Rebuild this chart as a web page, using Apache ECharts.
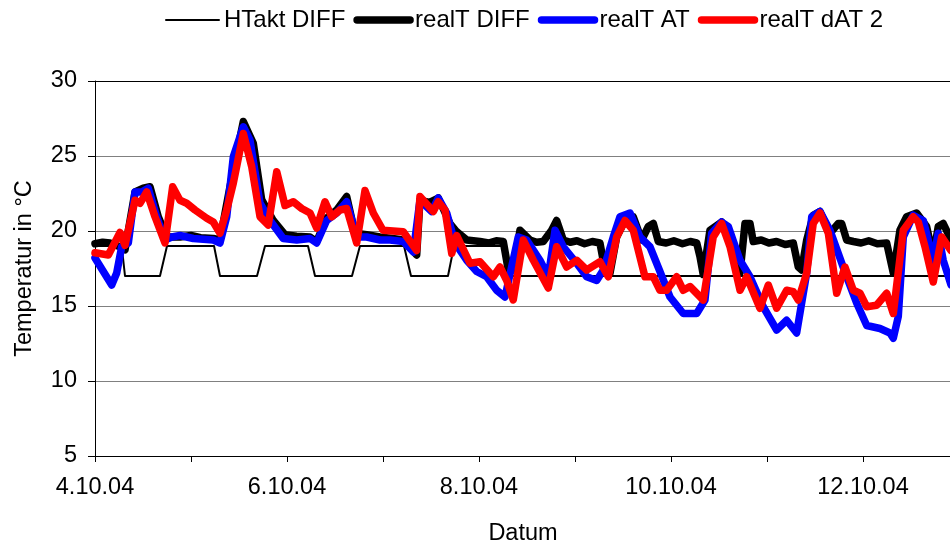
<!DOCTYPE html>
<html>
<head>
<meta charset="utf-8">
<script src="https://cdn.jsdelivr.net/npm/echarts@6/dist/echarts.min.js"></script>
<style>
  html, body { margin: 0; padding: 0; background: #fff; }
  #chart { width: 950px; height: 543px; }
</style>
</head>
<body>
<div id="chart"></div>
<script>
// x values are days after 4.10.04
var htaktDay = [0, 0.278, 0.3125, 0.677, 0.75, 1.24, 1.302, 1.6875, 1.771, 2.219, 2.292, 2.677, 2.76, 3.219, 3.292, 3.677, 3.74, 4.25, 4.3125, 8.917];
var htaktVal = [19, 19, 17, 17, 19, 19, 17, 17, 19, 19, 17, 17, 19, 19, 17, 17, 19, 19, 17, 17];

var diffDay = [0, 0.08, 0.156, 0.26, 0.3125, 0.417, 0.503, 0.573, 0.659, 0.747, 0.885, 1.0, 1.1, 1.232, 1.302, 1.406, 1.545, 1.649, 1.736, 1.857, 1.979, 2.1, 2.24, 2.309, 2.413, 2.518, 2.622, 2.708, 2.83, 2.969, 3.1, 3.211, 3.351, 3.385, 3.48, 3.576, 3.698, 3.768, 3.872, 4.01, 4.1, 4.18, 4.253, 4.305, 4.357, 4.427, 4.531, 4.6, 4.67, 4.757, 4.809, 4.878, 4.95, 5.02, 5.1, 5.18, 5.26, 5.3125, 5.365, 5.434, 5.538, 5.607, 5.695, 5.764, 5.816, 5.868, 5.95, 6.03, 6.12, 6.2, 6.268, 6.302, 6.336, 6.406, 6.528, 6.615, 6.719, 6.771, 6.823, 6.857, 6.94, 7.02, 7.1, 7.19, 7.274, 7.326, 7.361, 7.414, 7.482, 7.552, 7.656, 7.743, 7.778, 7.83, 7.9, 7.98, 8.06, 8.15, 8.247, 8.316, 8.385, 8.455, 8.559, 8.663, 8.732, 8.784, 8.836, 8.917];
var diffVal = [19.15, 19.25, 19.2, 18.95, 18.75, 22.6, 22.85, 22.95, 20.95, 19.6, 19.6, 19.7, 19.55, 19.5, 19.4, 22.95, 27.3, 25.85, 22.1, 20.7, 19.75, 19.65, 19.6, 19.3, 20.85, 21.4, 22.3, 19.85, 19.75, 19.6, 19.5, 19.4, 18.4, 22.05, 21.9, 22.2, 20.5, 19.95, 19.4, 19.3, 19.2, 19.35, 19.3, 17.4, 17.4, 20.05, 19.4, 19.25, 19.3, 20.05, 20.7, 19.4, 19.25, 19.35, 19.15, 19.3, 19.2, 17.4, 17.2, 19.6, 20.95, 20.95, 19.4, 20.3, 20.5, 19.3, 19.2, 19.35, 19.15, 19.3, 19.2, 18.3, 17.1, 20.05, 20.6, 19.4, 17.2, 20.5, 20.5, 19.3, 19.4, 19.2, 19.3, 19.1, 19.2, 17.6, 17.4, 19.4, 21.05, 21.3, 19.85, 20.5, 20.5, 19.4, 19.3, 19.2, 19.35, 19.15, 19.2, 17.2, 20.05, 20.95, 21.2, 20.3, 18.3, 20.3, 20.5, 19.4];

var atDay = [0, 0.174, 0.226, 0.278, 0.347, 0.417, 0.486, 0.555, 0.643, 0.729, 0.799, 0.885, 1.024, 1.232, 1.302, 1.372, 1.441, 1.545, 1.615, 1.719, 1.823, 1.961, 2.101, 2.24, 2.309, 2.413, 2.518, 2.622, 2.726, 2.83, 2.969, 3.073, 3.211, 3.316, 3.385, 3.507, 3.576, 3.664, 3.75, 3.872, 3.976, 4.08, 4.184, 4.271, 4.409, 4.497, 4.635, 4.722, 4.792, 4.878, 5.018, 5.122, 5.226, 5.295, 5.399, 5.469, 5.573, 5.677, 5.781, 5.885, 5.99, 6.128, 6.268, 6.354, 6.424, 6.528, 6.597, 6.719, 6.823, 6.961, 7.101, 7.205, 7.309, 7.414, 7.466, 7.552, 7.656, 7.83, 7.934, 8.039, 8.177, 8.281, 8.316, 8.368, 8.42, 8.523, 8.628, 8.732, 8.784, 8.836, 8.917];
var atVal = [18.2, 16.4, 17.2, 18.95, 19.2, 22.6, 22.6, 22.85, 20.95, 19.4, 19.6, 19.7, 19.5, 19.4, 19.2, 20.95, 24.95, 26.95, 26.05, 21.85, 20.7, 19.5, 19.4, 19.5, 19.2, 20.7, 21.2, 21.95, 19.6, 19.6, 19.4, 19.4, 19.3, 18.6, 22.05, 21.3, 22.2, 21.2, 19.2, 18.05, 17.3, 16.95, 16.05, 15.6, 19.6, 19.4, 18.05, 16.95, 20.05, 18.95, 17.85, 16.95, 16.7, 17.4, 19.6, 20.95, 21.2, 19.6, 18.95, 17.3, 15.6, 14.5, 14.5, 15.4, 19.85, 20.6, 20.3, 18.05, 16.95, 14.95, 13.4, 14.05, 13.2, 17.2, 20.95, 21.3, 20.05, 16.95, 15.2, 13.7, 13.5, 13.2, 12.85, 14.3, 19.6, 21.05, 20.7, 18.05, 19.85, 18.05, 16.4];

var datDay = [0, 0.139, 0.26, 0.3125, 0.417, 0.469, 0.539, 0.625, 0.729, 0.809, 0.885, 0.955, 1.042, 1.164, 1.232, 1.302, 1.372, 1.441, 1.545, 1.632, 1.719, 1.805, 1.893, 1.979, 2.066, 2.153, 2.24, 2.309, 2.396, 2.466, 2.552, 2.622, 2.726, 2.8125, 2.899, 3.0, 3.211, 3.351, 3.385, 3.524, 3.576, 3.646, 3.716, 3.768, 3.906, 4.01, 4.149, 4.219, 4.289, 4.357, 4.461, 4.566, 4.722, 4.809, 4.914, 5.018, 5.122, 5.26, 5.347, 5.434, 5.521, 5.607, 5.729, 5.816, 5.885, 5.955, 6.059, 6.128, 6.198, 6.336, 6.44, 6.528, 6.615, 6.719, 6.789, 6.927, 7.014, 7.101, 7.205, 7.274, 7.326, 7.414, 7.482, 7.552, 7.639, 7.726, 7.8125, 7.899, 7.969, 8.039, 8.142, 8.247, 8.316, 8.42, 8.523, 8.576, 8.646, 8.732, 8.82, 8.917];
var datVal = [18.55, 18.4, 19.9, 19.05, 22.05, 21.85, 22.6, 20.95, 19.2, 22.95, 22.05, 21.85, 21.4, 20.85, 20.6, 19.85, 21.4, 23.2, 26.5, 24.3, 20.95, 20.4, 23.95, 21.7, 21.95, 21.5, 21.2, 20.2, 21.95, 20.95, 21.4, 21.5, 19.2, 22.7, 21.2, 20.05, 19.95, 18.7, 22.3, 21.3, 21.95, 21.4, 18.5, 19.7, 17.85, 17.95, 16.95, 17.6, 16.7, 15.4, 19.4, 18.05, 16.2, 18.95, 17.6, 18.05, 17.4, 17.95, 16.95, 19.6, 20.7, 20.05, 16.95, 16.95, 16.05, 16.05, 16.95, 16.05, 16.3, 15.4, 19.6, 20.5, 18.95, 16.05, 16.95, 14.85, 16.4, 14.85, 16.05, 15.95, 15.4, 17.2, 20.5, 21.2, 19.85, 15.85, 17.6, 16.05, 15.85, 14.95, 15.05, 15.85, 14.5, 20.05, 20.95, 20.6, 18.95, 16.6, 19.6, 18.7];

var seriesNames = ['HTakt DIFF', 'realT DIFF', 'realT AT', 'realT dAT 2'];
var firstDate = 4;

function pairs(xs, ys) {
	return xs.map(function (x, i) { return [x, ys[i]]; });
}

var font = "'Liberation Sans', Arial, sans-serif";
var chart = echarts.init(document.getElementById('chart'), null, { renderer: 'canvas' });

function line(name, xs, ys, color, width) {
	return {
		name: name,
		type: 'line',
		data: pairs(xs, ys),
		showSymbol: false,
		symbol: 'none',
		smooth: false,
		animation: false,
		lineStyle: { color: color, width: width, join: 'round', cap: 'round' },
		itemStyle: { color: color },
		emphasis: { disabled: true }
	};
}

var option = {
	animation: false,
	textStyle: { fontFamily: font, color: '#000' },
	legend: {
		left: 160,
		top: 3,
		itemWidth: 53,
		itemHeight: 14,
		itemGap: 8,
		itemStyle: { opacity: 0 },
		lineStyle: { width: 'inherit', cap: 'round' },
		textStyle: { fontFamily: font, fontSize: 24, color: '#000' },
		data: seriesNames
	},
	grid: {
		left: 95,
		right: -1,
		top: 81,
		bottom: 87,
		containLabel: false,
		outerBoundsMode: 'none'
	},
	xAxis: {
		type: 'value',
		min: 0,
		max: 8.917,
		interval: 1,
		name: 'Datum',
		nameLocation: 'middle',
		nameGap: 66,
		nameTextStyle: { fontFamily: font, fontSize: 23.5, color: '#000' },
		axisLine: { onZero: false, lineStyle: { color: '#000', width: 1 } },
		axisTick: { show: true, inside: false, length: 6, lineStyle: { color: '#000' } },
		axisLabel: {
			margin: 20,
			fontFamily: font,
			fontSize: 23.5,
			color: '#000',
			showMaxLabel: false,
			formatter: function (v) {
				return (v % 2 === 0) ? (firstDate + v) + '.10.04' : '';
			}
		},
		splitLine: { show: false }
	},
	yAxis: {
		type: 'value',
		min: 5,
		max: 30,
		interval: 5,
		name: 'Temperatur in °C',
		nameLocation: 'middle',
		nameRotate: 90,
		nameGap: 58,
		nameTextStyle: { fontFamily: font, fontSize: 23.5, color: '#000' },
		axisLine: { show: true, lineStyle: { color: '#000', width: 1 } },
		axisTick: { show: true, inside: false, length: 7, lineStyle: { color: '#000' } },
		axisLabel: { margin: 18, fontFamily: font, fontSize: 23.5, color: '#000' },
		splitLine: {
			show: true,
			lineStyle: { color: ['#000', '#808080', '#808080', '#808080', '#808080', '#000'], width: 1 }
		}
	},
	series: [
		line(seriesNames[0], htaktDay, htaktVal, '#000000', 2),
		line(seriesNames[1], diffDay, diffVal, '#000000', 7.5),
		line(seriesNames[2], atDay, atVal, '#0000ff', 7.5),
		line(seriesNames[3], datDay, datVal, '#ff0000', 7.5)
	]
};

chart.setOption(option);
</script>
</body>
</html>
